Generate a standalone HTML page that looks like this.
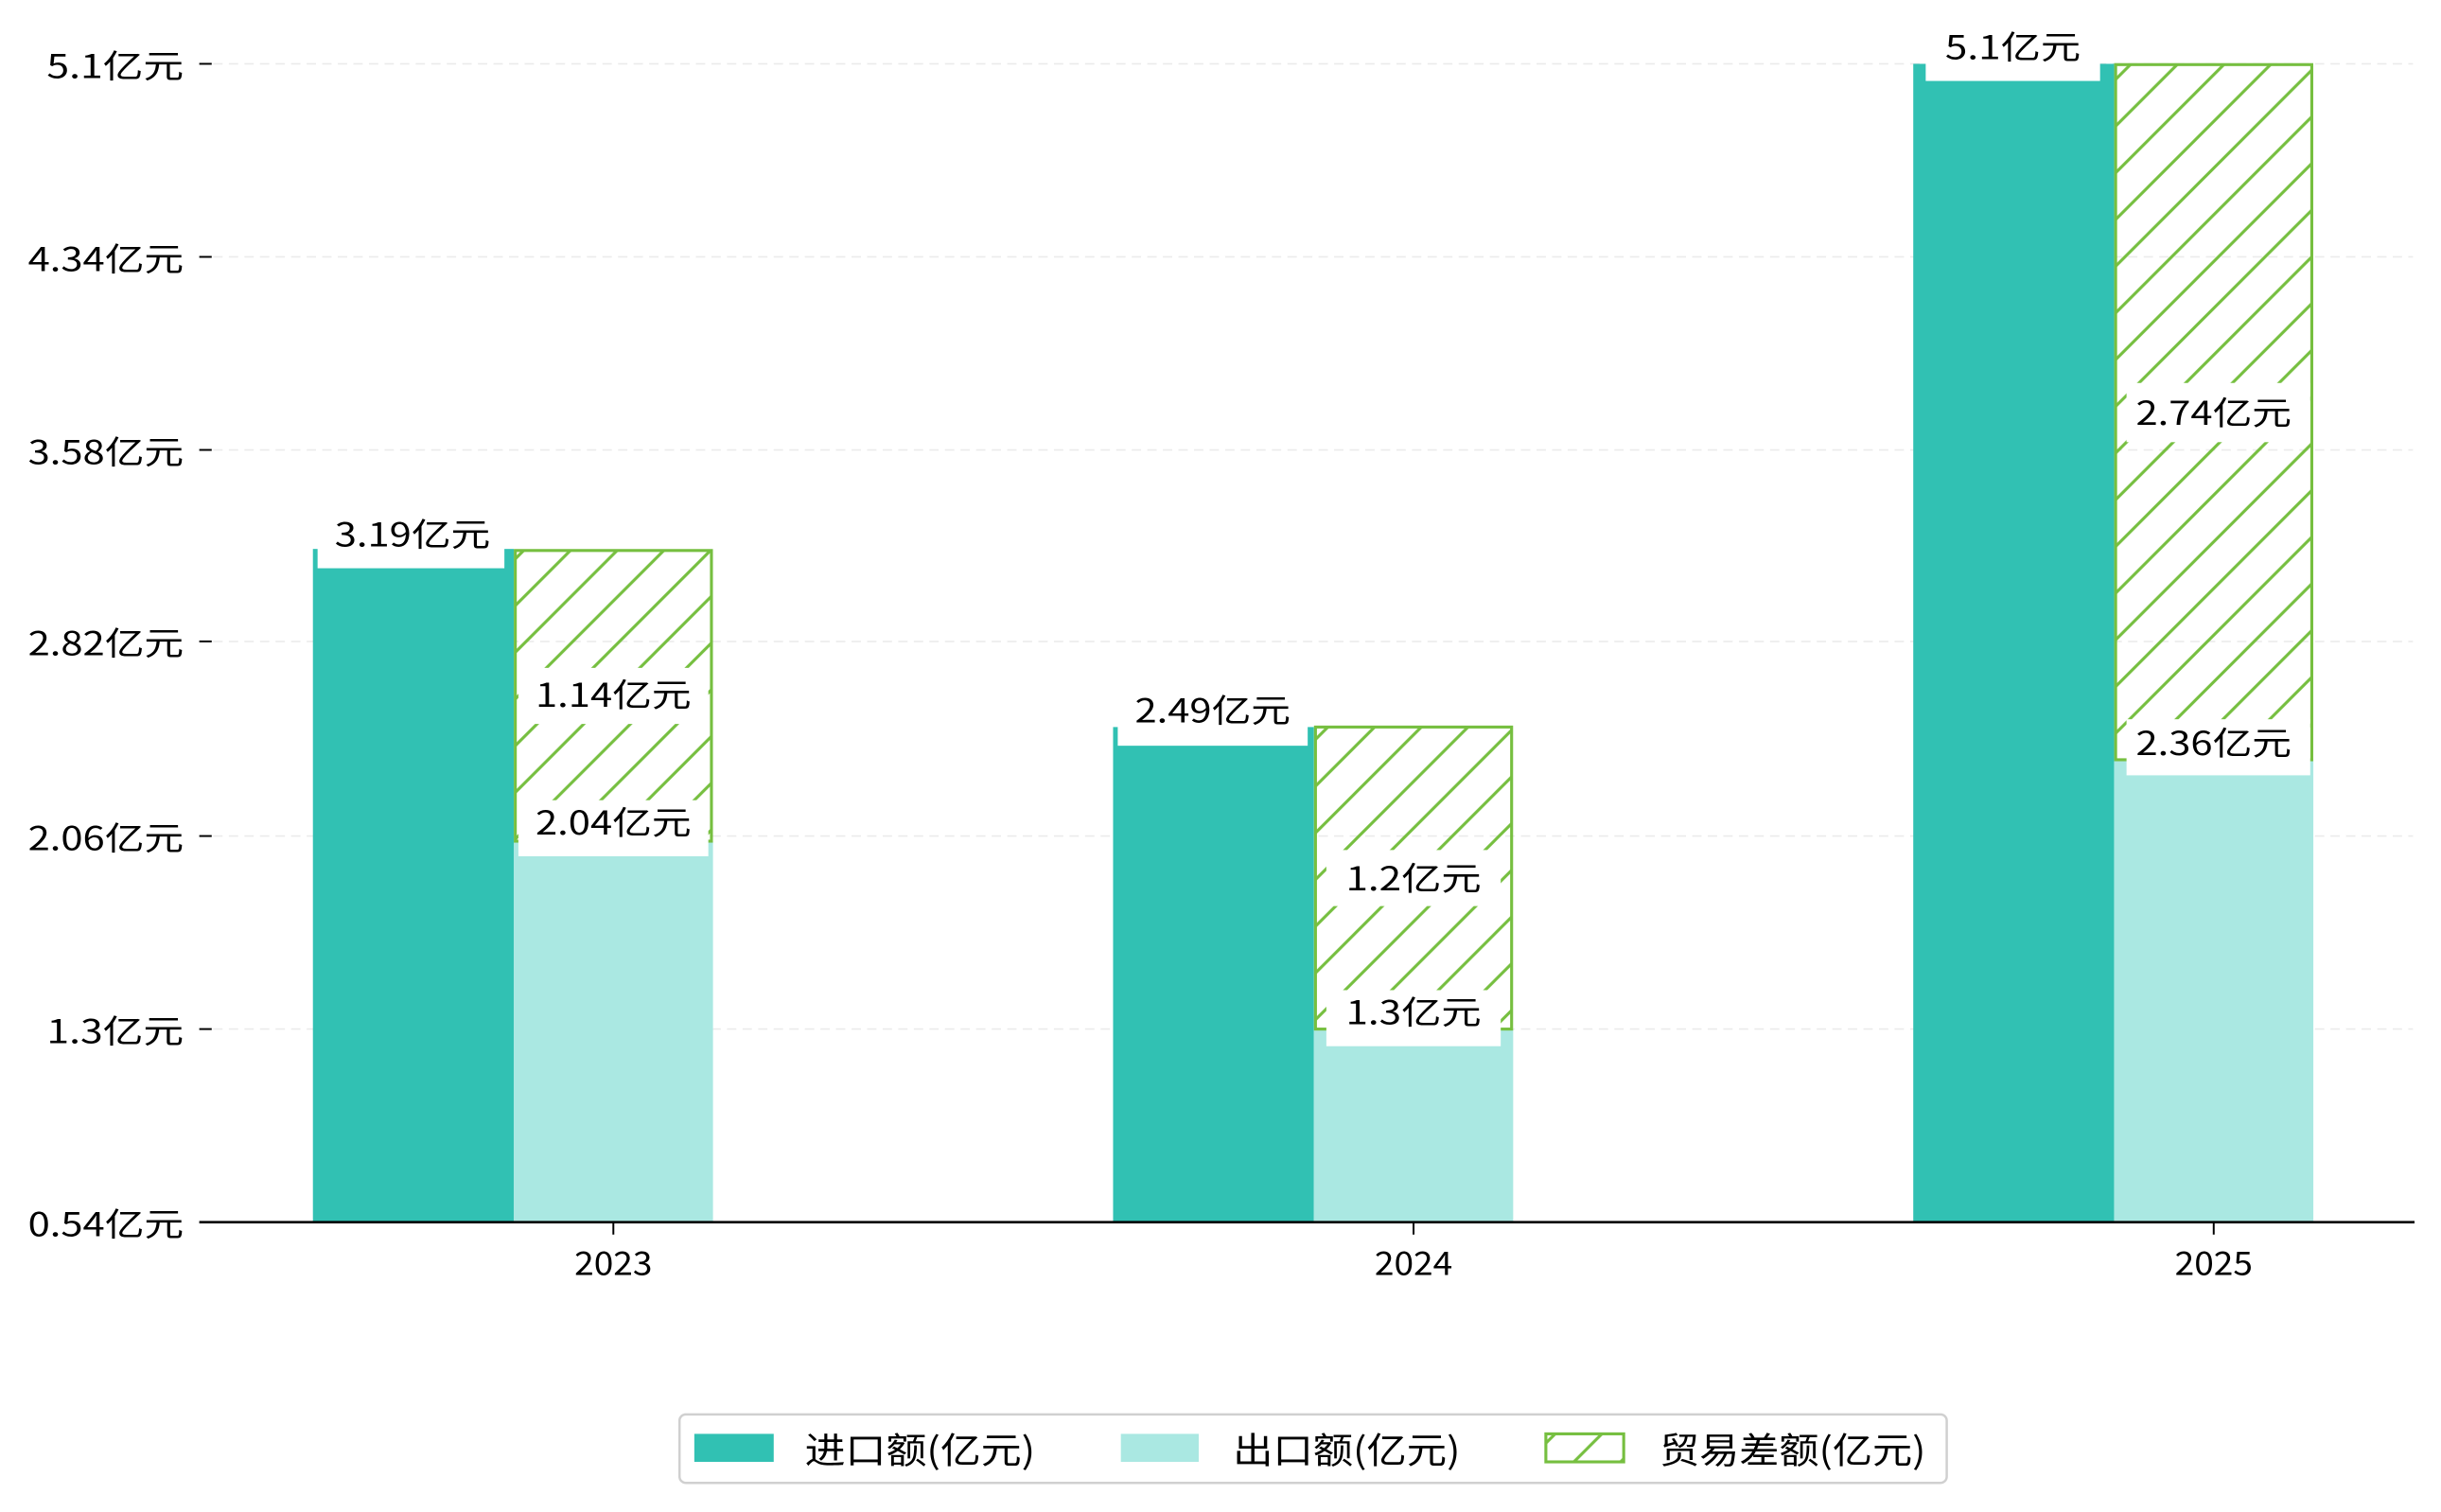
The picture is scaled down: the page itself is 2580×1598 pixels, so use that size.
<!DOCTYPE html>
<html><head><meta charset="utf-8"><style>
html,body{margin:0;padding:0;background:#fff;}
svg{display:block;}
text{font-family:"WenQuanYi Zen Hei","Noto Sans CJK SC",sans-serif;fill:#000;}
</style></head><body>
<svg width="2580" height="1598" viewBox="0 0 1568 971.2" preserveAspectRatio="none" xmlns="http://www.w3.org/2000/svg">
<defs>
<pattern id="h" patternUnits="userSpaceOnUse" width="30" height="30">
<path d="M-7.5,7.5 L7.5,-7.5 M0,30 L30,0 M22.5,37.5 L37.5,22.5" stroke="#76bf40" stroke-width="1.9"/>
</pattern>
</defs>
<rect width="1568" height="972" fill="#fff"/>
<g stroke="#ebebeb" stroke-width="1" stroke-dasharray="6,4">
<line x1="137" y1="41" x2="1550" y2="41"/>
<line x1="137" y1="165" x2="1550" y2="165"/>
<line x1="137" y1="289" x2="1550" y2="289"/>
<line x1="137" y1="412" x2="1550" y2="412"/>
<line x1="137" y1="537" x2="1550" y2="537"/>
<line x1="137" y1="661" x2="1550" y2="661"/>
</g>
<g stroke="#000" stroke-width="1.2">
<line x1="128" y1="41" x2="136" y2="41"/>
<line x1="128" y1="165" x2="136" y2="165"/>
<line x1="128" y1="289" x2="136" y2="289"/>
<line x1="128" y1="412" x2="136" y2="412"/>
<line x1="128" y1="537" x2="136" y2="537"/>
<line x1="128" y1="661" x2="136" y2="661"/>
</g>
<g font-size="21" text-anchor="end" lengthAdjust="spacingAndGlyphs">
<text x="118" y="50" textLength="88" lengthAdjust="spacingAndGlyphs">5.1亿元</text>
<text x="118" y="174" textLength="100" lengthAdjust="spacingAndGlyphs">4.34亿元</text>
<text x="118" y="298" textLength="100" lengthAdjust="spacingAndGlyphs">3.58亿元</text>
<text x="118" y="421" textLength="100" lengthAdjust="spacingAndGlyphs">2.82亿元</text>
<text x="118" y="546" textLength="100" lengthAdjust="spacingAndGlyphs">2.06亿元</text>
<text x="118" y="670" textLength="88" lengthAdjust="spacingAndGlyphs">1.3亿元</text>
<text x="118" y="794" textLength="100" lengthAdjust="spacingAndGlyphs">0.54亿元</text>
</g>
<rect x="201" y="352.6" width="129" height="432.4" fill="#31c1b3"/>
<rect x="330" y="540.3" width="128" height="244.7" fill="#aae8e2"/>
<rect x="331" y="353.6" width="126" height="186.7" fill="url(#h)" stroke="#76bf40" stroke-width="1.9"/>
<rect x="715" y="467" width="129" height="318" fill="#31c1b3"/>
<rect x="844" y="661" width="128" height="124" fill="#aae8e2"/>
<rect x="845" y="467" width="126" height="194" fill="url(#h)" stroke="#76bf40" stroke-width="1.9"/>
<rect x="1229" y="41" width="129" height="744" fill="#31c1b3"/>
<rect x="1358" y="488" width="128" height="297" fill="#aae8e2"/>
<rect x="1359" y="41.5" width="126" height="446.5" fill="url(#h)" stroke="#76bf40" stroke-width="1.9"/>
<g font-size="21" text-anchor="middle">
<rect x="204" y="329" width="120" height="36" fill="#fff"/><text x="265" y="351" textLength="100" lengthAdjust="spacingAndGlyphs">3.19亿元</text>
<rect x="333" y="429" width="122" height="36" fill="#fff"/><text x="394" y="454" textLength="100" lengthAdjust="spacingAndGlyphs">1.14亿元</text>
<rect x="333" y="514" width="122" height="36" fill="#fff"/><text x="394" y="536" textLength="100" lengthAdjust="spacingAndGlyphs">2.04亿元</text>
<rect x="718" y="443" width="122" height="36" fill="#fff"/><text x="779" y="464" textLength="100" lengthAdjust="spacingAndGlyphs">2.49亿元</text>
<rect x="852" y="546" width="112" height="36" fill="#fff"/><text x="908" y="572" textLength="87" lengthAdjust="spacingAndGlyphs">1.2亿元</text>
<rect x="852" y="636" width="112" height="36" fill="#fff"/><text x="908" y="658" textLength="87" lengthAdjust="spacingAndGlyphs">1.3亿元</text>
<rect x="1237" y="17" width="112" height="35" fill="#fff"/><text x="1293" y="38" textLength="87" lengthAdjust="spacingAndGlyphs">5.1亿元</text>
<rect x="1366" y="246" width="118" height="38" fill="#fff"/><text x="1422" y="273" textLength="100" lengthAdjust="spacingAndGlyphs">2.74亿元</text>
<rect x="1366" y="462" width="118" height="36" fill="#fff"/><text x="1422" y="485" textLength="100" lengthAdjust="spacingAndGlyphs">2.36亿元</text>
</g>
<line x1="128" y1="785" x2="1551" y2="785" stroke="#000" stroke-width="1.6"/>
<g stroke="#000" stroke-width="1.2">
<line x1="394" y1="785" x2="394" y2="793"/>
<line x1="908" y1="785" x2="908" y2="793"/>
<line x1="1422" y1="785" x2="1422" y2="793"/>
</g>
<g font-size="21" text-anchor="middle">
<text x="394" y="819" textLength="50" lengthAdjust="spacingAndGlyphs">2023</text>
<text x="908" y="819" textLength="50" lengthAdjust="spacingAndGlyphs">2024</text>
<text x="1422" y="819" textLength="50" lengthAdjust="spacingAndGlyphs">2025</text>
</g>
<rect x="436.5" y="908.5" width="814" height="44" rx="4" fill="#fff" stroke="#d0d0d0" stroke-width="1.5"/>
<rect x="446" y="921" width="51" height="18" fill="#31c1b3"/>
<rect x="720" y="921" width="50" height="18" fill="#aae8e2"/>
<rect x="993" y="921" width="50" height="18" fill="url(#h)" stroke="#76bf40" stroke-width="1.9"/>
<g font-size="23">
<text x="517" y="940" textLength="148" lengthAdjust="spacingAndGlyphs">进口额(亿元)</text>
<text x="792" y="940" textLength="146" lengthAdjust="spacingAndGlyphs">出口额(亿元)</text>
<text x="1066" y="940" textLength="171" lengthAdjust="spacingAndGlyphs">贸易差额(亿元)</text>
</g>
</svg>
</body></html>
